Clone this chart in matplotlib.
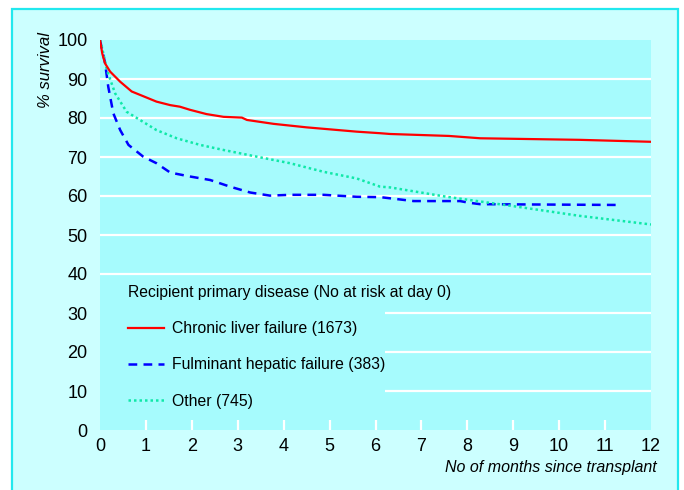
#! /usr/bin/env python3
"""Kaplan-Meier style survival curves after liver transplant, by primary disease."""

import matplotlib

matplotlib.use("Agg")
import matplotlib.pyplot as plt  # noqa: E402
from matplotlib.patches import Rectangle  # noqa: E402

plt.rcParams["font.family"] = ["Liberation Sans", "DejaVu Sans"]

# months since transplant / % survival
chronic_months = [0, 0.05, 0.11, 0.22, 0.44, 0.69, 0.94, 1.23, 1.53, 1.74, 1.96,
                  2.32, 2.69, 3.09, 3.2, 3.78, 4.5, 5.59, 6.1, 6.32, 7.6, 8.28,
                  10.45, 12]
chronic_surv = [100, 96.5, 94.0, 91.9, 89.3, 86.8, 85.6, 84.2, 83.3, 82.9, 82.1,
                81.0, 80.3, 80.1, 79.5, 78.5, 77.6, 76.5, 76.1, 75.9, 75.4, 74.8,
                74.4, 73.9]

fulminant_months = [0, 0.11, 0.18, 0.29, 0.44, 0.62, 0.94, 1.23, 1.53, 1.96, 2.4,
                    2.83, 3.27, 3.7, 4.14, 4.87, 5.59, 6.11, 6.83, 7.84, 8.02,
                    8.28, 11.35]
fulminant_surv = [100, 94.1, 88.0, 81.2, 76.9, 73.1, 70.1, 68.4, 66.0, 65.0, 64.1,
                  62.4, 60.9, 60.1, 60.3, 60.3, 59.8, 59.7, 58.7, 58.7, 58.3,
                  57.9, 57.7]

other_months = [0, 0.04, 0.15, 0.33, 0.58, 0.87, 1.23, 1.67, 2.18, 2.69, 3.41,
                4.14, 4.87, 5.59, 6.1, 6.32, 7.55, 9.0, 10.45, 12]
other_surv = [100, 98.3, 92.3, 86.3, 81.6, 79.5, 76.9, 74.8, 73.1, 71.8, 70.1,
              68.4, 66.2, 64.5, 62.4, 62.2, 59.8, 57.4, 54.9, 52.7]

labels = ["Chronic liver failure (1673)", "Fulminant hepatic failure (383)",
          "Other (745)"]
legend_title = "Recipient primary disease (No at risk at day 0)"

OUTER_BG = "#ccffff"
PLOT_BG = "#a6fbfd"
BORDER = "#22e8ee"

fig = plt.figure(figsize=(6.84, 4.90), dpi=100)
fig.patch.set_facecolor("white")
W, H = 684, 490
fig.patches.append(Rectangle((12 / W, -0.05), (678 - 12) / W, 1.05 - 9.5 / H,
                             transform=fig.transFigure, facecolor=OUTER_BG,
                             edgecolor=BORDER, lw=1.6, zorder=-1))

ax = fig.add_axes([100 / W, 1 - 430 / H, 551 / W, 390 / H], zorder=1)
ax.set_facecolor(PLOT_BG)
for s in ax.spines.values():
    s.set_visible(False)

for y in range(10, 100, 10):
    ax.axhline(y, color="white", lw=1.6, zorder=1)
# the legend sits on a patch of plain background that hides the grid
# (but not the white tick marks, which are drawn at zorder 1.5)
ax.add_patch(Rectangle((0, 0), (385 - 100) / 551, (430 - 282) / 390,
                       transform=ax.transAxes, facecolor=PLOT_BG,
                       edgecolor="none", zorder=1.2))

l1, = ax.plot(chronic_months, chronic_surv, color="#ff0000", lw=1.6, zorder=4)
l2, = ax.plot(fulminant_months, fulminant_surv, color="#0000ff", lw=1.8,
              ls=(0, (3.5, 2.5)), zorder=3)
l3, = ax.plot(other_months, other_surv, color="#10e8a8", lw=1.8,
              ls=(0, (1, 1.2)), zorder=3)

ax.set_xlim(0, 12)
ax.set_ylim(0, 100)
ax.set_xticks(range(13))
ax.set_yticks(range(0, 101, 10))
ax.tick_params(axis="x", direction="in", length=7, width=1.6, color="white",
               pad=6, labelsize=13)
ax.tick_params(axis="y", length=0, pad=9, labelsize=13)
xt = ax.xaxis.get_major_ticks()
for t in (xt[0], xt[-1]):
    t.tick1line.set_visible(False)

leg = ax.legend([l1, l2, l3], labels, title=legend_title, loc="upper left",
                bbox_to_anchor=(0.025, 0.408), frameon=False, fontsize=11.3,
                title_fontsize=11.3, handlelength=2.3, handletextpad=0.5,
                labelspacing=1.35)
leg._legend_box.align = "left"
leg.set_zorder(5)

fig.text(45 / W, 1 - 70 / H, "% survival", rotation=90, style="italic",
         fontsize=12, ha="center", va="center")
fig.text(657 / W, 1 - 467 / H, "No of months since transplant", style="italic",
         fontsize=11.5, ha="right", va="center")

fig.savefig("out.png", dpi=100)
